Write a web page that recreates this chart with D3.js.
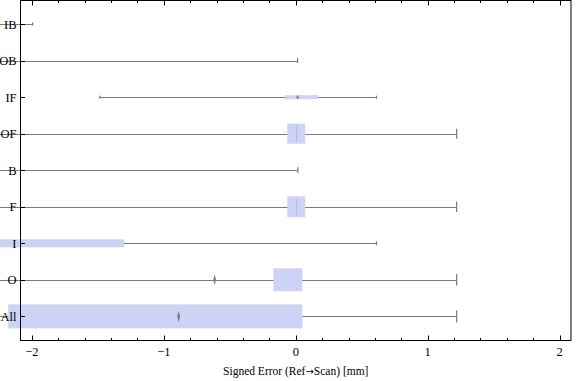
<!DOCTYPE html>
<html><head><meta charset="utf-8">
<script src="https://cdn.jsdelivr.net/npm/d3@7"></script>
<style>
body{margin:0;background:#fff}
svg{display:block}
text{font-family:"Liberation Serif","Times New Roman",serif;fill:#000}
</style></head>
<body><svg id="c" width="576" height="381"></svg>
<script>
const categories=["IB","OB","IF","OF","B","F","I","O","All"];
const whiskerLow=[-2.6,-2.6,-1.486,-2.6,-2.6,-2.6,-2.6,-2.6,-2.6];
const quartile1=[-2.45,-2.45,-0.08,-0.064,-2.45,-0.064,-2.5,-0.17,-2.18];
const medians=[null,null,0.014,0.006,null,0.006,null,null,null];
const quartile3=[-2.3,-2.3,0.17,0.072,-2.3,0.072,-1.30,0.05,0.05];
const whiskerHigh=[-1.995,0.014,0.612,1.22,0.016,1.22,0.612,1.22,1.22];
const means=[null,null,0.014,null,null,null,null,-0.615,-0.888];
const sampleWeight=[6,10,4,20,12,21,8,23,24];
const xTicks=[-2,-1,0,1,2];
const xLabelParts=["Signed Error (Ref","\u2192","Scan) [mm]"];

(function(){
const mL=20.5,mR=571,mT=0.5,mB=340.5;
const svg=d3.select("#c");
const x=d3.scaleLinear().domain([-2.087,2.087]).range([mL,mR]);
const y=d3.scalePoint().domain(categories).range([0,340.5]).padding(0.66);
const h=d3.scaleLinear().domain([0,24]).range([0,24]);

const rows=categories.map((c,i)=>({c,lo:whiskerLow[i],q1:quartile1[i],med:medians[i],q3:quartile3[i],hi:whiskerHigh[i],mean:means[i],w:sampleWeight[i]}));

const g=svg.append("g");
const grey="#7a7a7a";
g.selectAll("line.wh").data(rows).join("line").attr("class","wh")
 .attr("x1",d=>x(d.lo)).attr("x2",d=>x(d.hi))
 .attr("y1",d=>Math.round(y(d.c))+0.5).attr("y2",d=>Math.round(y(d.c))+0.5)
 .attr("stroke",grey).attr("stroke-width",1.2);
const capH=d=>Math.max(3,h(d.w)*0.5);
["lo","hi"].forEach(k=>{
 g.selectAll("line.cap"+k).data(rows).join("line").attr("class","cap"+k)
  .attr("x1",d=>x(d[k])).attr("x2",d=>x(d[k]))
  .attr("y1",d=>y(d.c)-capH(d)/2).attr("y2",d=>y(d.c)+capH(d)/2)
  .attr("stroke",grey).attr("stroke-width",1.2);
});
g.selectAll("rect.box").data(rows).join("rect").attr("class","box")
 .attr("x",d=>x(d.q1)).attr("width",d=>x(d.q3)-x(d.q1))
 .attr("y",d=>y(d.c)-h(d.w)/2).attr("height",d=>h(d.w))
 .attr("fill","#ccd3f5");
g.selectAll("line.med").data(rows.filter(d=>d.med!==null)).join("line").attr("class","med")
 .attr("x1",d=>x(d.med)).attr("x2",d=>x(d.med))
 .attr("y1",d=>y(d.c)-h(d.w)*0.4).attr("y2",d=>y(d.c)+h(d.w)*0.4)
 .attr("stroke","#b8bcd0").attr("stroke-width",1);
g.selectAll("path.mean").data(rows.filter(d=>d.mean!==null)).join("path").attr("class","mean")
 .attr("d",d=>{const cx=x(d.mean),cy=y(d.c),hh=Math.max(2,h(d.w)*0.24),ww=1.4;
   return `M${cx},${cy-hh}L${cx+ww},${cy}L${cx},${cy+hh}L${cx-ww},${cy}Z`;})
 .attr("fill","#7a7a7a");

const f=svg.append("g");
f.append("rect").attr("x",mL).attr("y",mT).attr("width",mR-mL).attr("height",mB-mT)
 .attr("fill","none").attr("stroke","#000").attr("stroke-width",1);
const minor=d3.range(-20,21,2).map(v=>v/10).filter(v=>!xTicks.includes(v));
const tickSet=[...xTicks.map(v=>({v,len:5})),...minor.map(v=>({v,len:2.5}))];
f.selectAll("line.bt").data(tickSet).join("line").attr("class","bt")
 .attr("x1",d=>Math.round(x(d.v))+0.5).attr("x2",d=>Math.round(x(d.v))+0.5)
 .attr("y1",mB).attr("y2",d=>mB-d.len).attr("stroke","#000");
f.selectAll("line.tt").data(tickSet).join("line").attr("class","tt")
 .attr("x1",d=>Math.round(x(d.v))+0.5).attr("x2",d=>Math.round(x(d.v))+0.5)
 .attr("y1",mT).attr("y2",d=>mT+d.len).attr("stroke","#000");
f.selectAll("text.xt").data(xTicks).join("text").attr("class","xt")
 .attr("x",d=>x(d)).attr("y",355.5).attr("text-anchor","middle").attr("font-size",12.5)
 .text(d=>d<0?"\u2212"+Math.abs(d):String(d));
f.selectAll("line.yt").data(categories).join("line").attr("class","yt")
 .attr("x1",mL).attr("x2",mL+4.5)
 .attr("y1",d=>Math.round(y(d))+0.5).attr("y2",d=>Math.round(y(d))+0.5).attr("stroke","#000");
f.selectAll("text.yl").data(categories).join("text").attr("class","yl")
 .attr("x",16.5).attr("y",d=>y(d)+4.4).attr("text-anchor","end").attr("font-size",12.5)
 .text(d=>d);
const t=f.append("text").attr("x",(mL+mR)/2).attr("y",375).attr("text-anchor","middle")
 .attr("font-size",11.5);
t.append("tspan").text(xLabelParts[0]);
t.append("tspan").style("font-family","'DejaVu Sans'").attr("font-size",10).text(xLabelParts[1]);
t.append("tspan").text(xLabelParts[2]);
})();
</script></body></html>
